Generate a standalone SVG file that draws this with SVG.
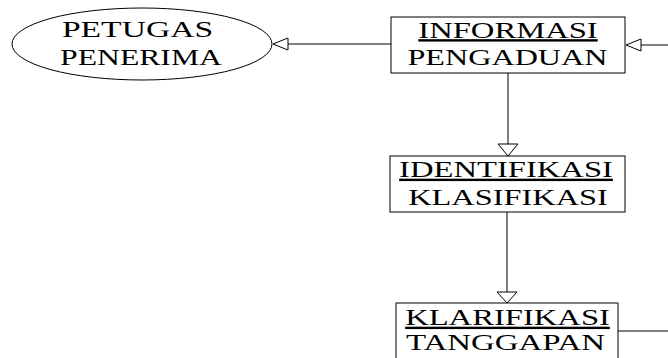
<svg xmlns="http://www.w3.org/2000/svg" width="668" height="358" viewBox="0 0 668 358">
<style>
.s{fill:#fff;stroke:#000;stroke-width:1}
.t{font-family:"Liberation Serif","Times New Roman",serif;font-size:24px;fill:#000;text-anchor:middle}
.u{text-decoration:underline}
.c{fill:none;stroke:#000;stroke-width:1}
.h{fill:#fff;stroke:#000;stroke-width:1}
</style>
<rect width="668" height="358" fill="#fff"/>
<g id="connectors">
<line class="c" x1="288" y1="44" x2="391" y2="44"/>
<polygon class="h" points="273,44 288,38 288,50"/>
<line class="c" x1="641" y1="45" x2="668" y2="45"/>
<polygon class="h" points="626,45 641,39 641,51"/>
<line class="c" x1="508" y1="73" x2="508" y2="144"/>
<polygon class="h" points="508,156 498,144 518,144"/>
<line class="c" x1="507" y1="212" x2="507" y2="292"/>
<polygon class="h" points="507,303 497,292 517,292"/>
<line class="c" x1="618" y1="331" x2="668" y2="331"/>
</g>
<g id="petugas">
<ellipse class="s" cx="142" cy="44" rx="130" ry="36"/>
<text class="t" transform="translate(137.500,36.500) scale(1.40,1)">PETUGAS</text>
<text class="t" transform="translate(141,65) scale(1.32,1)">PENERIMA</text>
</g>
<g id="informasi">
<rect class="s" x="391" y="17" width="234" height="56"/>
<text class="t u" transform="translate(508,37.500) scale(1.36,1)">INFORMASI</text>
<text class="t" transform="translate(507.500,64.500) scale(1.34,1)">PENGADUAN</text>
</g>
<g id="identifikasi">
<rect class="s" x="390" y="156" width="235" height="56"/>
<text class="t u" transform="translate(506,177) scale(1.36,1)">IDENTIFIKASI</text>
<text class="t" transform="translate(508,205) scale(1.35,1)">KLASIFIKASI</text>
</g>
<g id="klarifikasi">
<rect class="s" x="396" y="303" width="222" height="70"/>
<text class="t u" transform="translate(507.500,325) scale(1.36,1)">KLARIFIKASI</text>
<text class="t" transform="translate(505.500,350) scale(1.37,1)">TANGGAPAN</text>
</g>
</svg>
